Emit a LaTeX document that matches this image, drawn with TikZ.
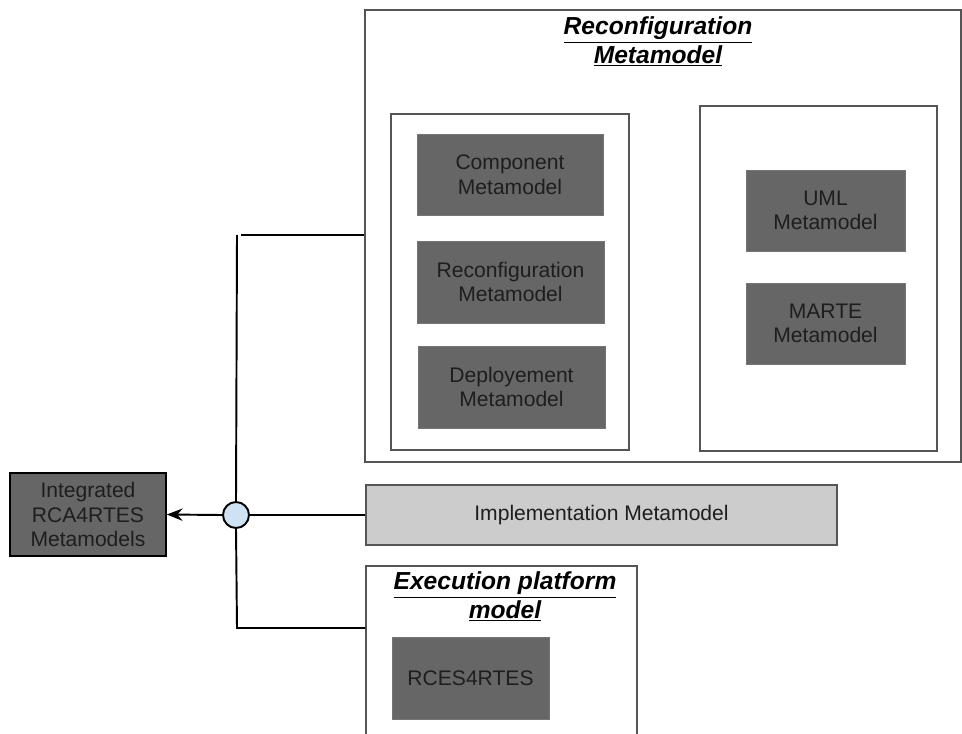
\documentclass[tikz,border=0pt]{standalone}
\usepackage{fontspec}
\setmainfont{Liberation Sans}
\usetikzlibrary{fit,arrows.meta}
\definecolor{boxdark}{HTML}{666666}
\definecolor{boxlight}{HTML}{CCCCCC}
\definecolor{boxedge}{HTML}{555555}
\definecolor{inktext}{HTML}{1E1E1E}
\definecolor{junctionfill}{HTML}{CFE2F3}
\tikzset{
  frame/.style={draw=boxedge, line width=0.8pt, fill=white, inner sep=0pt},
  darkbox/.style={fill=boxdark, draw=boxdark!90!white, line width=0.4pt, inner sep=0pt,
    align=center, text=inktext, font=\fontsize{12}{14}\selectfont},
  lightbox/.style={fill=boxlight, draw=boxedge, line width=0.6pt, inner sep=0pt,
    align=center, text=inktext, font=\fontsize{12}{14}\selectfont},
  outbox/.style={fill=boxdark, draw=black, line width=0.9pt, inner sep=0pt,
    align=center, text=inktext, font=\fontsize{12}{14}\selectfont},
  heading/.style={align=center, font=\fontsize{14}{16}\selectfont\bfseries\itshape},
  link/.style={draw=black, line width=1.1pt},
  junction/.style={circle, draw=black, line width=1.1pt, fill=junctionfill, minimum size=26*0.02cm, inner sep=0pt}
}
\begin{document}
\begin{tikzpicture}[x=0.02cm,y=-0.02cm]
\useasboundingbox (0,0) rectangle (962,733);

% Reconfiguration metamodel package
\node[frame, fit={(365,10) (961,462)}] (reconf) {};
\node[heading] (reconftitle) at (658,42) {\underline{Reconfiguration}\\\underline{Metamodel}};

% left group of metamodels
\node[frame, fit={(391,114) (629,450)}] (leftgroup) {};
\node[darkbox, fit={(417,134) (603,215)}, label={[darkbox, fill=none, draw=none]center:Component\\Metamodel}] (component) {};
\node[darkbox, fit={(417,241) (604,323)}, label={[darkbox, fill=none, draw=none]center:Reconfiguration\\Metamodel}] (reconfmm) {};
\node[darkbox, fit={(418,346) (605,428)}, label={[darkbox, fill=none, draw=none]center:Deployement\\Metamodel}] (deploy) {};

% right group of metamodels
\node[frame, fit={(700,106) (937,451)}] (rightgroup) {};
\node[darkbox, fit={(746,170) (905,251)}, label={[darkbox, fill=none, draw=none]center:UML\\Metamodel}] (uml) {};
\node[darkbox, fit={(746,283) (905,364)}, label={[darkbox, fill=none, draw=none]center:MARTE\\Metamodel}] (marte) {};

% implementation metamodel
\node[lightbox, fit={(366,485) (837,545)}, label={[lightbox, fill=none, draw=none]center:Implementation Metamodel}] (impl) {};

% execution platform package
\node[frame, fit={(366,566) (637,740)}] (exec) {};
\node[heading] (exectitle) at (505,597) {\underline{Execution platform}\\\underline{model}};
\node[darkbox, fit={(392,637) (549,719)}, label={[darkbox, fill=none, draw=none]center:RCES4RTES}] (rces) {};

% integrated result
\node[outbox, fit={(10,473) (166,556)}, label={[outbox, fill=none, draw=none]center:Integrated\\RCA4RTES\\Metamodels}] (integrated) {};

% junction and connectors
\node[junction] (hub) at (236,515) {};
\coordinate (topcorner) at (237,235);
\coordinate (topend) at (reconf.west |- 0,235);
\coordinate (botcorner) at (237,628);
\coordinate (botend) at (exec.west |- 0,628);

\draw[link] (hub.north) -- (topcorner);
\draw[link] (241,235) -- (topend);
\draw[link] (hub.south) -- (botcorner) -- (botend);
\draw[link] (impl.west) -- (hub.east);
\draw[link, -{Stealth[length=9pt,width=7pt,inset=3pt]}] (hub.west) -- (integrated.east);
\end{tikzpicture}
\end{document}
